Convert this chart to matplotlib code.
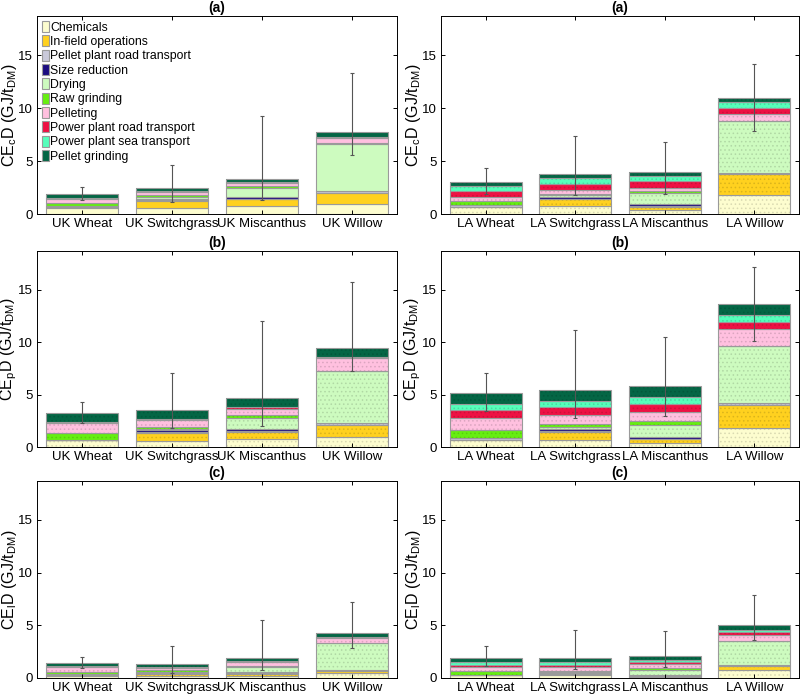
"""Stacked energy-demand breakdown for UK and LA pellet supply chains."""

import matplotlib

matplotlib.use("Agg")
import matplotlib.pyplot as plt
import numpy as np
from matplotlib.colors import to_rgb

plt.rcParams["font.family"] = ["Liberation Sans", "DejaVu Sans"]
plt.rcParams["mathtext.fontset"] = "custom"
plt.rcParams["mathtext.rm"] = "Liberation Sans"
plt.rcParams["mathtext.it"] = "Liberation Sans"
plt.rcParams["hatch.linewidth"] = 0.6

components = [
    "Chemicals",
    "In-field operations",
    "Pellet plant road transport",
    "Size reduction",
    "Drying",
    "Raw grinding",
    "Pelleting",
    "Power plant road transport",
    "Power plant sea transport",
    "Pellet grinding",
]
colors = [
    "#fdfdcf", "#ffd11f", "#c9c9da", "#1c0c80", "#cdfbbf",
    "#66ee11", "#ffc0df", "#ee1144", "#55ffbb", "#046645",
]

uk_labels = ["UK Wheat", "UK Switchgrass", "UK Miscanthus", "UK Willow"]
la_labels = ["LA Wheat", "LA Switchgrass", "LA Miscanthus", "LA Willow"]

# rows follow `components`, columns follow the bar labels
uk_a = [
    [0.60, 0.55, 0.80, 0.90],
    [0.03, 0.65, 0.60, 1.10],
    [0.10, 0.10, 0.05, 0.15],
    [0.00, 0.15, 0.15, 0.00],
    [0.00, 0.20, 0.85, 4.50],
    [0.30, 0.12, 0.20, 0.05],
    [0.40, 0.33, 0.25, 0.45],
    [0.10, 0.10, 0.10, 0.12],
    [0.00, 0.00, 0.00, 0.00],
    [0.35, 0.30, 0.35, 0.45],
]
la_a = [
    [0.70, 0.80, 0.35, 1.80],
    [0.00, 0.60, 0.35, 1.95],
    [0.15, 0.05, 0.05, 0.15],
    [0.00, 0.15, 0.15, 0.00],
    [0.00, 0.20, 1.10, 4.90],
    [0.35, 0.12, 0.20, 0.00],
    [0.45, 0.35, 0.30, 0.60],
    [0.55, 0.60, 0.60, 0.60],
    [0.45, 0.50, 0.45, 0.55],
    [0.40, 0.40, 0.40, 0.40],
]
uk_b = [
    [0.63, 0.57, 0.73, 0.92],
    [0.00, 0.73, 0.73, 1.20],
    [0.07, 0.10, 0.05, 0.20],
    [0.00, 0.20, 0.17, 0.00],
    [0.00, 0.15, 1.05, 4.95],
    [0.63, 0.20, 0.30, 0.00],
    [0.92, 0.63, 0.63, 1.20],
    [0.10, 0.10, 0.15, 0.12],
    [0.00, 0.00, 0.00, 0.00],
    [0.85, 0.85, 0.85, 0.90],
]
la_b = [
    [0.63, 0.70, 0.35, 1.84],
    [0.00, 0.73, 0.40, 2.18],
    [0.20, 0.08, 0.05, 0.15],
    [0.00, 0.17, 0.18, 0.00],
    [0.00, 0.20, 1.12, 5.45],
    [0.75, 0.30, 0.40, 0.00],
    [1.20, 0.90, 0.88, 1.60],
    [0.73, 0.73, 0.73, 0.73],
    [0.60, 0.55, 0.63, 0.63],
    [1.08, 1.08, 1.05, 1.05],
]
uk_c = [
    [0.20, 0.20, 0.20, 0.45],
    [0.05, 0.15, 0.20, 0.22],
    [0.10, 0.05, 0.03, 0.05],
    [0.00, 0.08, 0.12, 0.00],
    [0.00, 0.10, 0.45, 2.60],
    [0.25, 0.15, 0.15, 0.00],
    [0.40, 0.25, 0.35, 0.50],
    [0.10, 0.07, 0.10, 0.10],
    [0.00, 0.00, 0.00, 0.00],
    [0.32, 0.32, 0.32, 0.35],
]
la_c = [
    [0.25, 0.25, 0.12, 0.80],
    [0.00, 0.15, 0.10, 0.38],
    [0.08, 0.03, 0.03, 0.05],
    [0.00, 0.06, 0.08, 0.00],
    [0.00, 0.12, 0.45, 2.30],
    [0.30, 0.08, 0.13, 0.00],
    [0.40, 0.32, 0.38, 0.55],
    [0.25, 0.22, 0.22, 0.25],
    [0.20, 0.28, 0.22, 0.22],
    [0.38, 0.38, 0.35, 0.45],
]

# error bar ranges (low, high) per bar
uk_a_err = [[1.30, 1.10, 1.30, 5.60], [2.55, 4.65, 9.30, 13.35]]
la_a_err = [[1.90, 1.80, 1.90, 7.80], [4.33, 7.35, 6.80, 14.15]]
uk_b_err = [[2.30, 1.80, 2.05, 7.25], [4.25, 7.10, 12.00, 15.70]]
la_b_err = [[3.40, 2.80, 3.00, 10.15], [7.05, 11.20, 10.45, 17.20]]
uk_c_err = [[0.95, 0.50, 0.75, 2.85], [2.00, 3.05, 5.50, 7.20]]
la_c_err = [[1.10, 0.90, 1.00, 3.60], [3.00, 4.55, 4.50, 7.90]]

panels = [
    ("(a)", "c", uk_a, uk_a_err, la_a, la_a_err),
    ("(b)", "p", uk_b, uk_b_err, la_b, la_b_err),
    ("(c)", "l", uk_c, uk_c_err, la_c, la_c_err),
]

W, H = 805, 698
fig = plt.figure(figsize=(W / 100, H / 100), dpi=100)

col_x = [(37, 397), (441, 799)]
row_y = [(16, 214), (251, 447), (481, 678)]


def draw_panel(ax, values, err, labels, title, sub):
    values = np.array(values)
    x = np.arange(1, len(labels) + 1)
    bottom = np.zeros(len(labels))
    for name, color, row in zip(components, colors, values):
        dots = tuple(0.86 * v for v in to_rgb(color))
        # fill with fine dots, then outline each segment in gray
        ax.bar(x, row, 0.8, bottom=bottom, color=color, edgecolor=dots,
               linewidth=0, hatch="....")
        ax.bar(x, row, 0.8, bottom=bottom, color=color, edgecolor="#9a9a9a",
               linewidth=0.8, fill=False, label=name)
        bottom += row
    low, high = np.array(err)
    ax.errorbar(x, bottom, yerr=[bottom - low, high - bottom], fmt="none",
                ecolor="#555555", elinewidth=0.8, capsize=1.5, capthick=0.8)
    ax.set_xlim(0.5, 4.5)
    ax.set_ylim(0, 18.7)
    ax.set_xticks(x)
    ax.set_xticklabels(labels, fontsize=9)
    ax.set_yticks([0, 5, 10, 15])
    ax.tick_params(direction="in", length=3, width=0.7, labelsize=9.5,
                   top=True, right=True, pad=3)
    for spine in ax.spines.values():
        spine.set_linewidth(0.7)
    ax.set_title(title, fontsize=10, fontweight="bold", pad=3)
    ax.set_ylabel(rf"CE$_\mathrm{{{sub}}}$D (GJ/t$_\mathrm{{DM}}$)", fontsize=11.5)
    ax.yaxis.set_label_coords(-0.05, 0.5)


for r, (title, sub, uk, uk_err, la, la_err) in enumerate(panels):
    y0, y1 = row_y[r]
    for c, (vals, err, labels) in enumerate([(uk, uk_err, uk_labels), (la, la_err, la_labels)]):
        x0, x1 = col_x[c]
        ax = fig.add_axes([x0 / W, 1 - y1 / H, (x1 - x0) / W, (y1 - y0) / H])
        draw_panel(ax, vals, err, labels, title, sub)
        if r == 0 and c == 0:
            handles, names = ax.get_legend_handles_labels()
            for h in handles:
                for p in h.patches:
                    p.set_fill(True)
            ax.legend(handles, names, loc="upper left", frameon=False, fontsize=8.8,
                      handlelength=0.55, handleheight=1.0, handletextpad=0.15,
                      labelspacing=0.14, borderaxespad=0.3, borderpad=0.1)

fig.savefig("out.png", dpi=100)
